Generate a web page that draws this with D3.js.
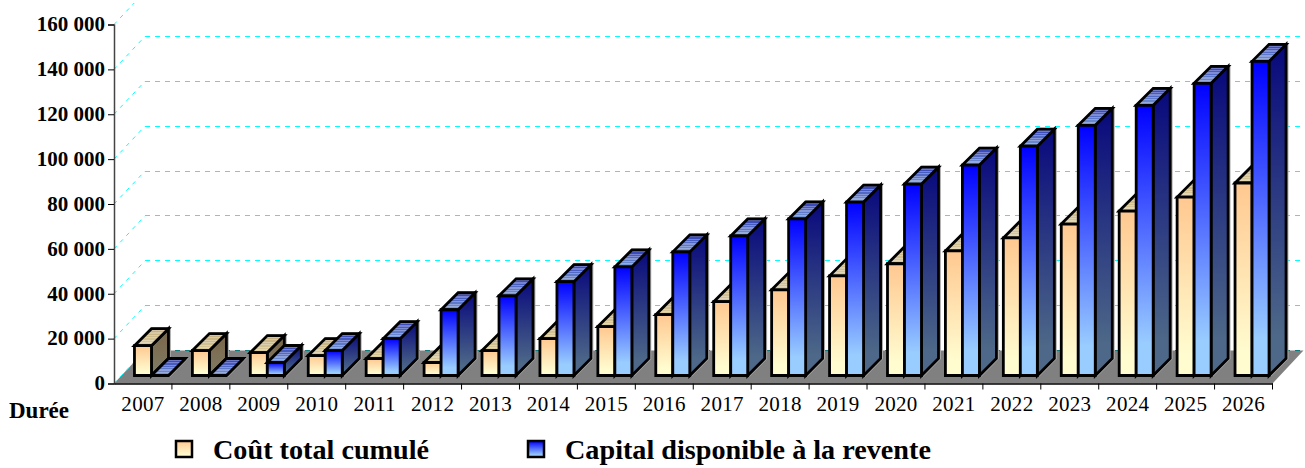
<!DOCTYPE html>
<html>
<head>
<meta charset="utf-8">
<script src="https://d3js.org/d3.v7.min.js"></script>
<style>
  body { margin: 0; background: #fff; overflow: hidden; }
  text { font-family: "Liberation Serif", serif; fill: #000; }
</style>
</head>
<body>
<script>
// Donnees
const annees = ["2007","2008","2009","2010","2011","2012","2013","2014","2015","2016","2017","2018","2019","2020","2021","2022","2023","2024","2025","2026"]
const coutTotal = [13300,11100,10200,8900,7500,5800,11100,16400,21800,27100,32900,38200,44400,49800,55500,61300,67500,73300,79500,85800]
const capital = [0,0,5800,11100,16400,29300,35500,41800,48400,55100,62200,69800,77300,85300,93800,102200,111500,120400,130200,140000]
const ticksY = [0,20000,40000,60000,80000,100000,120000,140000,160000]
const nomsSeries = ["Coût total cumulé","Capital disponible à la revente"]

// Profondeur du sol et des barres
const solDx = 31, solDy = 33
const marge = 8, prof = 17

let svg = d3.select("body")
    .append("svg")
    .attr("width", 1305)
    .attr("height", 468)
    .style("display", "block")

let x = d3.scaleBand().domain(annees).range([114, 1272.5])
let xBarre = d3.scaleBand().domain([0, 1]).range([0, 34])
let y = d3.scaleLinear().domain([0, 160000]).range([383.5, 24.5])

let defs = svg.append("defs")

defs.append("clipPath").attr("id", "cadre")
    .append("rect").attr("x", 0).attr("y", 3).attr("width", 1305).attr("height", 465)

function degrade(id, haut, bas) {
    let g = defs.append("linearGradient").attr("id", id)
        .attr("x1", 0).attr("y1", 0).attr("x2", 0).attr("y2", 1)
    g.append("stop").attr("offset", "0%").attr("stop-color", haut)
    g.append("stop").attr("offset", "88%").attr("stop-color", bas)
}

// Dessus des barres : degrade avec de fines rayures claires
function degradeRaye(id, fond, face, rayure) {
    let g = defs.append("linearGradient").attr("id", id)
        .attr("x1", 0).attr("y1", 0).attr("x2", 0).attr("y2", 1)
    let couleur = d3.interpolateRgb(fond, face)
    let n = 7
    for (let i = 0; i < n; i++) {
        let a = i / n, b = (i + 0.5) / n, c = (i + 1) / n
        let base = couleur(a)
        let clair = d3.interpolateRgb(base, rayure)(0.3)
        g.append("stop").attr("offset", a).attr("stop-color", base)
        g.append("stop").attr("offset", b).attr("stop-color", base)
        g.append("stop").attr("offset", b).attr("stop-color", clair)
        g.append("stop").attr("offset", c).attr("stop-color", clair)
    }
}

degrade("faceCout", "#ffc890", "#fffcd0")
degrade("faceCap", "#0000ff", "#99ccff")
degrade("coteCout", "#7a6448", "#7f7a62")
degrade("coteCap", "#08087c", "#4d6888")
degradeRaye("dessusCout", "#c4ac7c", "#dccfa0", "#ffffff")
degradeRaye("dessusCap", "#2f3fb8", "#80a4d8", "#ffffff")

// Sol gris
svg.append("path")
    .attr("d", `M${x.range()[0]},${y(0)}L${x.range()[1]},${y(0)}L${x.range()[1] + solDx},${y(0) - solDy}L${x.range()[0] + solDx},${y(0) - solDy}Z`)
    .attr("fill", "#808080")

// Grille pointillee (arrondie au pixel pour rester nette)
let yGrille = d => Math.floor(y(d) - solDy) + 0.5
let grille = svg.append("g").attr("clip-path", "url(#cadre)")
grille.selectAll("line.fond")
    .data(ticksY)
    .join("line")
    .attr("class", "fond")
    .attr("x1", x.range()[0] + solDx)
    .attr("x2", 1305)
    .attr("y1", yGrille)
    .attr("y2", yGrille)
    .attr("stroke", d => d == 0 ? "#0a7a7a" : "#00ffff")
    .attr("stroke-width", 1)
    .attr("stroke-dasharray", "5,5")
grille.selectAll("line.diag")
    .data(ticksY)
    .join("line")
    .attr("class", "diag")
    .attr("x1", x.range()[0])
    .attr("x2", x.range()[0] + solDx)
    .attr("y1", d => y(d))
    .attr("y2", d => y(d) - solDy)
    .attr("stroke", "#00ffff")
    .attr("stroke-width", 1)
    .attr("stroke-dasharray", "4,5")

// Barres : cout d'abord, capital ensuite par dessus
function barre(g, annee, valeur, rang, nom) {
    let x0 = x(annee) + (x.bandwidth() - xBarre.range()[1]) / 2 + marge + 0.5 + xBarre(rang)
    let w = xBarre.bandwidth()
    let bas = y(0) - marge
    let haut = bas - (y(0) - y(valeur))
    let contour = `M${x0},${bas}V${haut}L${x0 + prof},${haut - prof}H${x0 + w + prof}V${bas - prof}L${x0 + w},${bas}Z`

    g.append("path").attr("d", contour)
        .attr("transform", "translate(1,0)")
        .attr("fill", "none").attr("stroke", "#aaa").attr("stroke-width", 2.8)

    let faces = [
        { d: `M${x0 + w},${haut}L${x0 + w + prof},${haut - prof}V${bas - prof}L${x0 + w},${bas}Z`, fill: "cote" + nom },
        { d: `M${x0},${haut}L${x0 + prof},${haut - prof}H${x0 + w + prof}L${x0 + w},${haut}Z`, fill: "dessus" + nom },
        { d: `M${x0},${haut}H${x0 + w}V${bas}H${x0}Z`, fill: "face" + nom }
    ]
    g.selectAll("path.face")
        .data(faces)
        .join("path")
        .attr("class", "face")
        .attr("d", d => d.d)
        .attr("fill", d => `url(#${d.fill})`)
        .attr("stroke", "#000")
        .attr("stroke-width", 2.8)
        .attr("stroke-linejoin", "miter")
}

annees.forEach((a, i) => {
    barre(svg.append("g"), a, coutTotal[i], 0, "Cout")
    barre(svg.append("g"), a, capital[i], 1, "Cap")
})

// Axe Y
let axeY = svg.append("g")
    .attr("transform", `translate(${x.range()[0]},0)`)
    .call(d3.axisLeft(y)
        .tickValues(ticksY)
        .tickSize(6)
        .tickPadding(3)
        .tickFormat(d => d3.format(",")(d).replace(/,/g, " ")))
axeY.select(".domain").attr("stroke", "#444").attr("stroke-width", 1.5)
axeY.selectAll("line").attr("stroke", "#000").attr("stroke-width", 1)
axeY.selectAll("text")
    .style("font-size", "21px")
    .style("font-weight", "bold")
    .attr("dy", "0.3em")

// Axe X
let axeX = svg.append("g")
    .attr("transform", `translate(0,${y(0)})`)
    .call(d3.axisBottom(x).tickSize(0).tickPadding(17))
axeX.select(".domain").attr("stroke", "#000").attr("stroke-width", 1.5)
axeX.selectAll("text")
    .style("font-size", "21px")
    .style("letter-spacing", "0.3px")
    .attr("dy", "0.5em")
axeX.selectAll("line.sep")
    .data(annees)
    .join("line")
    .attr("class", "sep")
    .attr("x1", d => x(d) + x.bandwidth())
    .attr("x2", d => x(d) + x.bandwidth())
    .attr("y1", 0)
    .attr("y2", 6)
    .attr("stroke", "#000")

svg.append("text")
    .attr("x", 9).attr("y", 418)
    .style("font-size", "23px")
    .style("font-weight", "bold")
    .text("Durée")

// Legende
let legende = svg.selectAll("g.legende")
    .data(nomsSeries)
    .join("g")
    .attr("class", "legende")
    .attr("transform", (d, i) => `translate(${i == 0 ? 176 : 528},441)`)
legende.append("rect")
    .attr("width", 16).attr("height", 16)
    .attr("fill", (d, i) => i == 0 ? "url(#faceCout)" : "url(#faceCap)")
    .attr("stroke", "#000").attr("stroke-width", 2.5)
legende.append("text")
    .attr("x", 37).attr("y", 18)
    .style("font-size", "28.2px")
    .style("font-weight", "bold")
    .text(d => d)
</script>
</body>
</html>
